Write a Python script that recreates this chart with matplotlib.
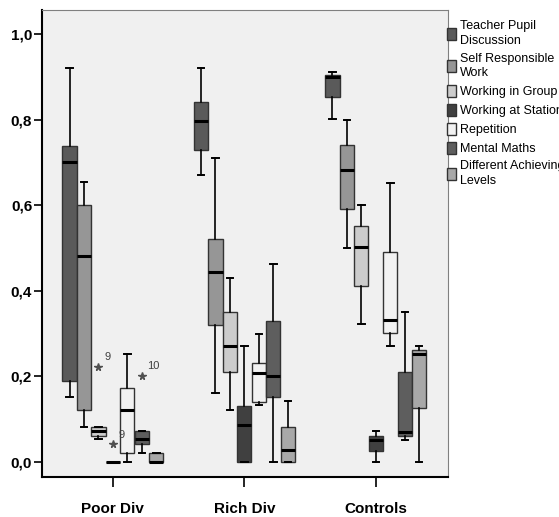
import matplotlib.pyplot as plt
from matplotlib.patches import Patch
from matplotlib.ticker import FuncFormatter

plt.rcParams['font.family'] = ['Liberation Sans', 'DejaVu Sans']

groups = ['Poor Div', 'Rich Div', 'Controls']
series = ['Teacher Pupil\nDiscussion', 'Self Responsible\nWork', 'Working in Group',
          'Working at Station', 'Repetition', 'Mental Maths', 'Different Achieving\nLevels']
colors = ['#5a5a5a', '#969696', '#cccccc', '#404040', '#f2f2f2', '#5e5e5e', '#a8a8a8']

# one row per group, one value per series
whis_hi = [[0.92, 0.653, 0.0825, 0.0, 0.252, 0.073, 0.022],
           [0.92, 0.71, 0.431, 0.272, 0.30, 0.462, 0.1425],
           [0.912, 0.80, 0.601, 0.072, 0.652, 0.351, 0.272]]
q3 = [[0.739, 0.60, 0.0825, 0.0, 0.172, 0.073, 0.022],
      [0.84, 0.521, 0.351, 0.131, 0.231, 0.33, 0.0825],
      [0.904, 0.741, 0.552, 0.061, 0.491, 0.211, 0.262]]
med = [[0.70, 0.481, 0.072, 0.0, 0.121, 0.054, 0.0],
       [0.797, 0.443, 0.271, 0.0865, 0.207, 0.2016, 0.028],
       [0.90, 0.681, 0.502, 0.051, 0.331, 0.07, 0.252]]
q1 = [[0.19, 0.121, 0.061, 0.0, 0.022, 0.042, 0.0],
      [0.73, 0.32, 0.211, 0.0, 0.141, 0.151, 0.0],
      [0.852, 0.59, 0.411, 0.026, 0.302, 0.061, 0.127]]
whis_lo = [[0.153, 0.082, 0.054, 0.0, 0.0, 0.022, 0.0],
           [0.67, 0.162, 0.121, 0.0, 0.132, 0.0, 0.0],
           [0.801, 0.50, 0.322, 0.0, 0.272, 0.051, 0.0]]

# outliers: (group, series, value, case label)
outliers = [(0, 2, 0.221, '9'), (0, 3, 0.041, '9'), (0, 5, 0.201, '10')]

step = 0.11
fig = plt.figure(figsize=(5.59, 5.17), dpi=100)
ax = fig.add_axes([0.075, 0.0774, 0.726, 0.9033])
ax.set_facecolor('#f0f0f0')

for s in range(len(series)):
    stats = []
    pos = []
    for g in range(len(groups)):
        stats.append(dict(whislo=whis_lo[g][s], q1=q1[g][s], med=med[g][s],
                          q3=q3[g][s], whishi=whis_hi[g][s], fliers=[]))
        pos.append(g + (s - 3) * step)
    ax.bxp(stats, positions=pos, widths=step * 0.98, patch_artist=True,
           showfliers=False, manage_ticks=False,
           boxprops=dict(facecolor=colors[s], edgecolor='#333333', linewidth=1.0),
           medianprops=dict(color='black', linewidth=2.2),
           whiskerprops=dict(color='black', linewidth=1.2),
           capprops=dict(color='black', linewidth=1.4), capwidths=step * 0.45)

for g, s, v, lab in outliers:
    x = g + (s - 3) * step
    ax.plot(x, v, marker='*', color='#505050', markersize=5.5, linestyle='none')
    ax.annotate(lab, (x, v), xytext=(4, 5), textcoords='offset points',
                fontsize=8, color='#404040')

ax.set_xlim(-0.54, 2.547)
ax.set_ylim(-0.035, 1.056)
ax.set_xticks(range(len(groups)))
ax.set_xticklabels(groups, fontsize=11, fontweight='bold')
ax.set_yticks([0.0, 0.2, 0.4, 0.6, 0.8, 1.0])
ax.yaxis.set_major_formatter(FuncFormatter(lambda v, p: f'{v:.1f}'.replace('.', ',')))
for t in ax.get_yticklabels():
    t.set_fontweight('bold')
    t.set_fontsize(11)
ax.tick_params(axis='x', length=7, width=1.2, pad=11)
ax.tick_params(axis='y', length=6, width=1.2, pad=1)

ax.spines['left'].set_linewidth(1.5)
ax.spines['bottom'].set_linewidth(1.5)
ax.spines['top'].set_color('#808080')
ax.spines['right'].set_color('#808080')
ax.spines['top'].set_linewidth(0.8)
ax.spines['right'].set_linewidth(0.8)

handles = [Patch(facecolor=c, edgecolor='#333333', label=n) for c, n in zip(colors, series)]
leg = ax.legend(handles=handles, loc='upper left', bbox_to_anchor=(0.998, 0.978),
                frameon=False, fontsize=9, handlelength=0.75, handleheight=1.1,
                handletextpad=0.3, labelspacing=0.45, borderaxespad=0, borderpad=0)
for t in leg.get_texts():
    t.set_linespacing(1.3)

fig.savefig('out.png', dpi=100)
